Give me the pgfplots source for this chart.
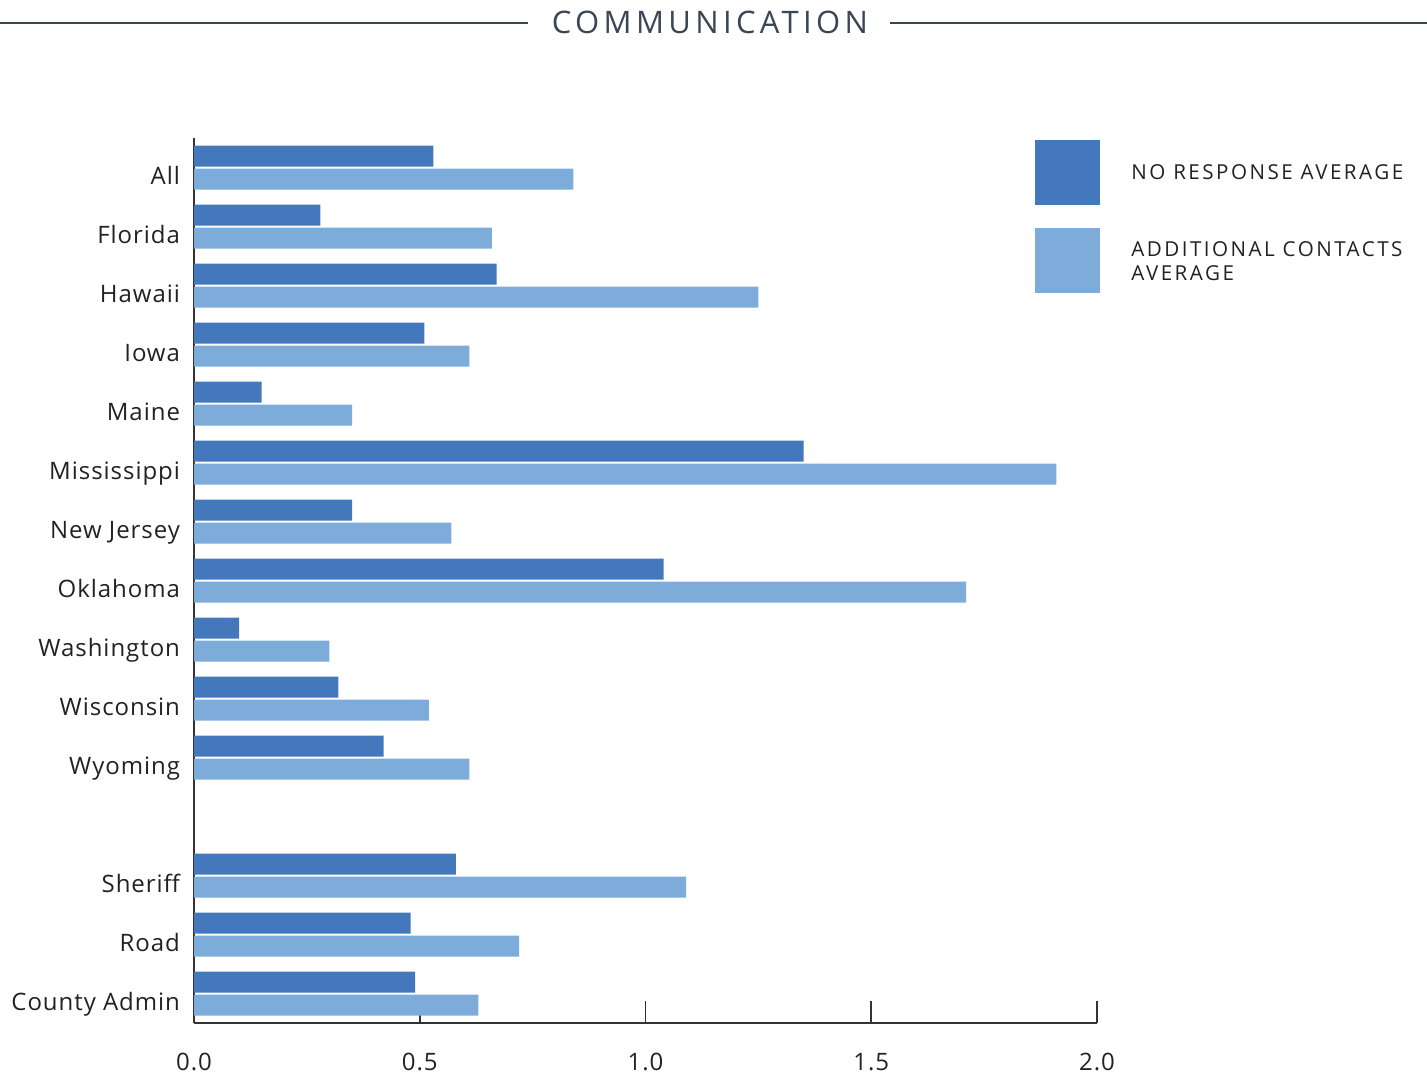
\documentclass[border=0pt]{standalone}
\usepackage{pgfplots}
\pgfplotsset{compat=1.18}
\usepackage{fontspec}
\setmainfont{Open Sans}[LetterSpace=4]
\newfontfamily\titlefont{Open Sans}[LetterSpace=14]
\newfontfamily\legfont{Open Sans}[LetterSpace=12]
\definecolor{darkbar}{HTML}{4379BC}
\definecolor{lightbar}{HTML}{7DACDB}
\definecolor{titlecol}{HTML}{3A4556}
\definecolor{axiscol}{HTML}{333333}
\definecolor{txt}{HTML}{222222}

\pgfplotstableread{
pos nr ac
0  0.53 0.84
1  0.28 0.66
2  0.67 1.25
3  0.51 0.61
4  0.15 0.35
5  1.35 1.91
6  0.35 0.57
7  1.04 1.71
8  0.10 0.30
9  0.32 0.52
10 0.42 0.61
12 0.58 1.09
13 0.48 0.72
14 0.49 0.63
}\datatable

\begin{document}
\begin{tikzpicture}
\path[use as bounding box] (0,0) rectangle (713.5bp,-539bp);
% title
\draw[titlecol, line width=1bp] (0,-11.5bp) -- (264bp,-11.5bp);
\draw[titlecol, line width=1bp] (445bp,-11.5bp) -- (713.5bp,-11.5bp);
\node[titlecol, font=\titlefont\fontsize{15.5bp}{18bp}\selectfont] at (355bp,-11bp) {COMMUNICATION};
\begin{axis}[
  at={(97bp,-511.5bp)}, anchor=south west,
  scale only axis, width=451.5bp, height=442.5bp,
  xbar, bar width=10.5bp,
  xmin=0, xmax=2,
  ymin=-0.5, ymax=14.5, y dir=reverse,
  axis x line=bottom, axis y line=left,
  axis line style={-, axiscol, line width=0.8bp},
  xtick={0,0.5,1,1.5,2},
  xticklabels={0.0,0.5,1.0,1.5,2.0},
  tick align=inside, major tick length=11bp,
  xtick style={axiscol, line width=0.8bp},
  ytick={0,1,2,3,4,5,6,7,8,9,10,12,13,14},
  yticklabels={All,Florida,Hawaii,Iowa,Maine,Mississippi,New Jersey,Oklahoma,Washington,Wisconsin,Wyoming,Sheriff,Road,County Admin},
  ytick style={draw=none},
  tick label style={font=\fontsize{12bp}{14bp}\selectfont, text=txt},
  /pgf/number format/assume math mode=true,
  xticklabel style={yshift=-11.5bp},
  yticklabel style={anchor=base east, xshift=-3.5bp, yshift=-8.5bp},
  clip=false,
]
\addplot[fill=darkbar, draw=none, bar shift=5.75bp] table[x=nr, y=pos] {\datatable};
\addplot[fill=lightbar, draw=none, bar shift=-5.75bp] table[x=ac, y=pos] {\datatable};
\end{axis}
% legend
\fill[darkbar] (517.5bp,-70bp) rectangle (550bp,-102.5bp);
\fill[lightbar] (517.5bp,-114bp) rectangle (550bp,-146.5bp);
\begin{scope}[every node/.style={anchor=base west, inner sep=0pt, text=txt, font=\legfont\fontsize{10.3bp}{12bp}\selectfont}]
\node at (565.5bp,-89.5bp) {NO RESPONSE AVERAGE};
\node at (565.5bp,-128bp) {ADDITIONAL CONTACTS};
\node at (565.5bp,-140bp) {AVERAGE};
\end{scope}
\end{tikzpicture}
\end{document}
